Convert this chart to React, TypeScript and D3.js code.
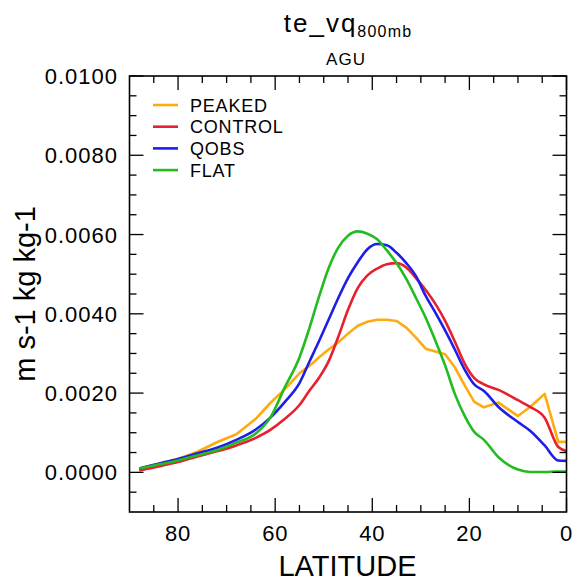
import React from "react";
import * as d3 from "d3";

const latitudes = [88, 84, 80, 76, 72, 68, 64, 61, 58, 55, 53, 51, 49, 47, 45, 43, 41, 39, 37, 35, 33, 31, 29, 27, 25, 23, 21, 19, 17, 14, 10, 7.5, 4.5, 1.7, 0];

const peaked = [0.0001, 0.00022, 0.00034, 0.00052, 0.00076, 0.00096, 0.00135, 0.00175, 0.0021, 0.0025, 0.00268, 0.0029, 0.0031, 0.00328, 0.0035, 0.0037, 0.0038, 0.00385, 0.00385, 0.00382, 0.00365, 0.0034, 0.00312, 0.00305, 0.00298, 0.00265, 0.0022, 0.00178, 0.00164, 0.00176, 0.00142, 0.00165, 0.00198, 0.00077, 0.00077];

const control = [0.00005, 0.00015, 0.00026, 0.0004, 0.00053, 0.00068, 0.00087, 0.00107, 0.00135, 0.0017, 0.00205, 0.00238, 0.0028, 0.00342, 0.0041, 0.00465, 0.00497, 0.00514, 0.00525, 0.00528, 0.00517, 0.0049, 0.0046, 0.00425, 0.00382, 0.0033, 0.00275, 0.00238, 0.00222, 0.00208, 0.00182, 0.00165, 0.00138, 0.00064, 0.00054];

const qobs = [0.0001, 0.00022, 0.00034, 0.00048, 0.00062, 0.00082, 0.00108, 0.00138, 0.00178, 0.00225, 0.00278, 0.0033, 0.00385, 0.0044, 0.0049, 0.0053, 0.00563, 0.00576, 0.00573, 0.00554, 0.00528, 0.00495, 0.00445, 0.00403, 0.00358, 0.0031, 0.0026, 0.00222, 0.00205, 0.00165, 0.00127, 0.00105, 0.00068, 0.0003, 0.00029];

const flat = [0.0001, 0.0002, 0.0003, 0.00043, 0.00056, 0.00075, 0.00098, 0.00138, 0.00215, 0.0029, 0.00362, 0.00442, 0.00515, 0.00567, 0.00597, 0.00608, 0.00602, 0.00588, 0.0056, 0.00528, 0.00488, 0.0044, 0.0039, 0.00332, 0.0027, 0.00198, 0.00143, 0.00102, 0.00082, 0.00038, 0.00007, 0.00001, 0.00001, 0.00002, 0.00002];

const seriesNames = ["PEAKED", "CONTROL", "QOBS", "FLAT"];
const seriesValues = [peaked, control, qobs, flat];
const seriesColors = ["#ffab10", "#e8202e", "#1e1ee6", "#22bb22"];
const seriesSmooth = [false, true, true, true];

const xMajorTicks = [80, 60, 40, 20, 0];
const xMinorTicks = [85, 75, 70, 65, 55, 50, 45, 35, 30, 25, 15, 10, 5];
const yMajorTicks = [0, 0.002, 0.004, 0.006, 0.008, 0.01];
const yTickLabels = ["0.0000", "0.0020", "0.0040", "0.0060", "0.0080", "0.0100"];
const yMinorTicks = [-0.0005, 0.0005, 0.001, 0.0015, 0.0025, 0.003, 0.0035, 0.0045, 0.005, 0.0055, 0.0065, 0.007, 0.0075, 0.0085, 0.009, 0.0095];

const W = 583;
const H = 586;
const left = 129.5;
const right = 566.5;
const top = 76;
const bottom = 512;
const MAJ = 14;
const MIN = 7;
const FONT = "'Liberation Sans', Arial, Helvetica, sans-serif";

export default function App() {
  const x = d3.scaleLinear().domain([90, 0]).range([left, right]);
  const y = d3.scaleLinear().domain([-0.001, 0.01]).range([bottom, top]);
  const makeLine = (smooth: boolean) =>
    d3
      .line<number>()
      .x((_, i) => x(latitudes[i]))
      .y((d) => y(d))
      .curve(smooth ? d3.curveMonotoneX : d3.curveLinear);

  const legendY0 = 105;
  const legendStep = 21.7;

  return (
    <svg
      width={W}
      height={H}
      style={{ position: "absolute", left: 0, top: 0, background: "#fff" }}
      fontFamily={FONT}
    >
      <rect x={0} y={0} width={W} height={H} fill="#fff" />
      <defs>
        <clipPath id="clip">
          <rect x={left} y={top} width={right - left} height={bottom - top} />
        </clipPath>
      </defs>
      {/* Titles */}
      <text x={348} y={32} textAnchor="middle" fill="#000">
        <tspan fontSize={26} letterSpacing={2}>te_vq</tspan>
        <tspan fontSize={16} dy={5} letterSpacing={1.2}>800mb</tspan>
      </text>
      <text x={346} y={65} textAnchor="middle" fontSize={17} letterSpacing={1} fill="#000">
        AGU
      </text>

      {/* Series */}
      <g clipPath="url(#clip)">
        {seriesValues.map((vals, i) => (
          <path
            key={seriesNames[i]}
            d={makeLine(seriesSmooth[i])(vals) || ""}
            fill="none"
            stroke={seriesColors[i]}
            strokeWidth={2.6}
            strokeLinejoin="round"
          />
        ))}
      </g>

      {/* Ticks */}
      <g stroke="#000" strokeWidth={1.3}>
        {xMajorTicks.map((t) => (
          <g key={"xM" + t}>
            <line x1={x(t)} x2={x(t)} y1={bottom} y2={bottom - MAJ} />
            <line x1={x(t)} x2={x(t)} y1={top} y2={top + MAJ} />
          </g>
        ))}
        {xMinorTicks.map((t) => (
          <g key={"xm" + t}>
            <line x1={x(t)} x2={x(t)} y1={bottom} y2={bottom - MIN} />
            <line x1={x(t)} x2={x(t)} y1={top} y2={top + MIN} />
          </g>
        ))}
        {yMajorTicks.map((t) => (
          <g key={"yM" + t}>
            <line x1={left} x2={left + MAJ} y1={y(t)} y2={y(t)} />
            <line x1={right} x2={right - MAJ} y1={y(t)} y2={y(t)} />
          </g>
        ))}
        {yMinorTicks.map((t) => (
          <g key={"ym" + t}>
            <line x1={left} x2={left + MIN} y1={y(t)} y2={y(t)} />
            <line x1={right} x2={right - MIN} y1={y(t)} y2={y(t)} />
          </g>
        ))}
      </g>

      {/* Frame */}
      <rect
        x={left}
        y={top}
        width={right - left}
        height={bottom - top}
        fill="none"
        stroke="#000"
        strokeWidth={1.6}
      />

      {/* Tick labels */}
      {xMajorTicks.map((t) => (
        <text key={"xl" + t} x={x(t)} y={540.5} textAnchor="middle" fontSize={22} letterSpacing={0.8} fill="#000">
          {String(t)}
        </text>
      ))}
      {yMajorTicks.map((t, i) => (
        <text key={"yl" + t} x={118} y={y(t) + 8} textAnchor="end" fontSize={22} letterSpacing={1} fill="#000">
          {yTickLabels[i]}
        </text>
      ))}

      {/* Axis titles */}
      <text x={347.5} y={576} textAnchor="middle" fontSize={29} fill="#000">
        LATITUDE
      </text>
      <text transform="translate(35,294) rotate(-90)" textAnchor="middle" fontSize={29} fill="#000">
        m s-1 kg kg-1
      </text>

      {/* Legend */}
      {seriesNames.map((name, i) => {
        const ly = legendY0 + i * legendStep;
        return (
          <g key={"lg" + name}>
            <line x1={153} x2={178} y1={ly} y2={ly} stroke={seriesColors[i]} strokeWidth={2.6} />
            <text x={190} y={ly + 6.5} fontSize={18} letterSpacing={0.8} fill="#000">
              {name}
            </text>
          </g>
        );
      })}
    </svg>
  );
}
